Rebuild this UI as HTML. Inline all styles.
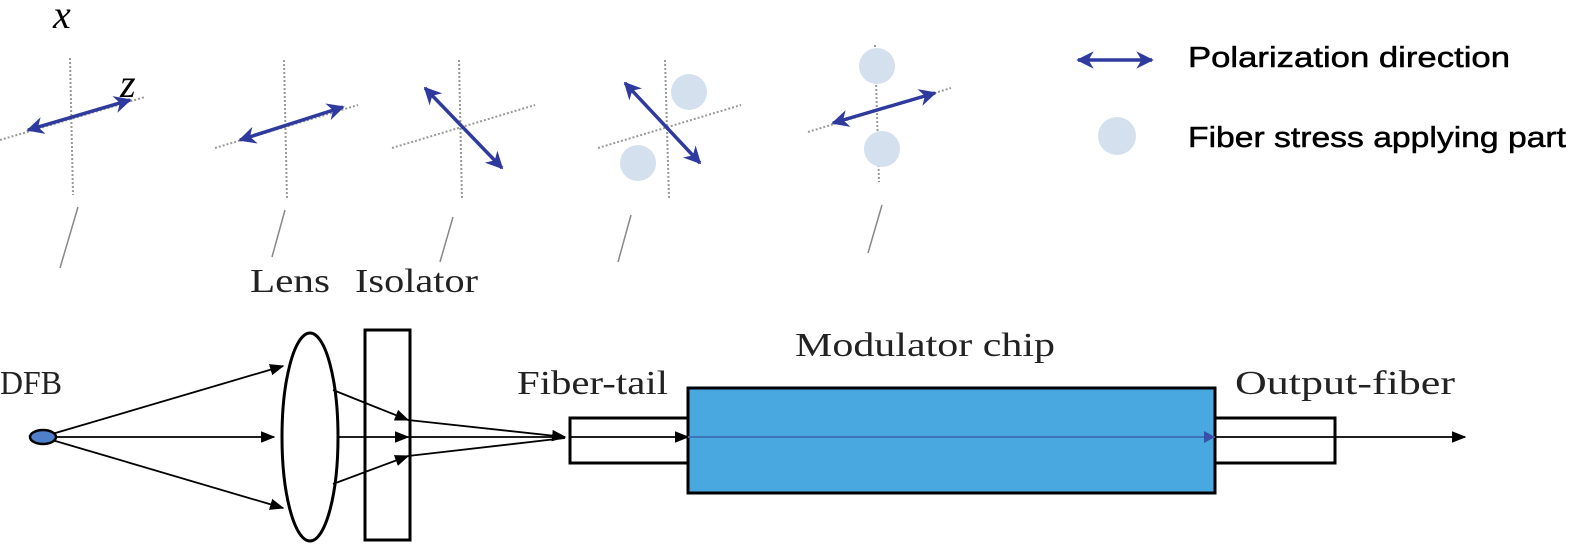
<!DOCTYPE html>
<html><head><meta charset="utf-8"><style>html,body{margin:0;padding:0;background:#fff}svg{display:block}</style></head>
<body>
<svg width="1575" height="552" viewBox="0 0 1575 552" xmlns="http://www.w3.org/2000/svg">
<defs>
<marker id="ba" viewBox="0 0 10 10" refX="9" refY="5" markerWidth="5" markerHeight="5" orient="auto-start-reverse"><path d="M0,0 L10,5 L0,10 L3,5 z" fill="#2e3a9e"/></marker>
<marker id="k" viewBox="0 0 10 10" refX="9" refY="5" markerWidth="8" markerHeight="8" orient="auto"><path d="M0,1 L10,5 L0,9 z" fill="#000"/></marker>
</defs>
<g stroke="#999" stroke-width="2" stroke-dasharray="2,2" fill="none">
<line x1="70" y1="58" x2="73" y2="195"/><line x1="0" y1="140" x2="145" y2="97"/>
<line x1="284" y1="60" x2="287" y2="200"/><line x1="215" y1="148" x2="358" y2="105"/>
<line x1="459" y1="60" x2="462" y2="200"/><line x1="392" y1="148" x2="535" y2="105"/>
<line x1="665" y1="60" x2="669" y2="198"/><line x1="598" y1="148" x2="741" y2="105"/>
<line x1="875" y1="45" x2="879" y2="182"/><line x1="808" y1="132" x2="951" y2="88"/>
</g>
<g stroke="#888" stroke-width="1.5">
<line x1="78" y1="207" x2="60" y2="268"/><line x1="285" y1="210" x2="272" y2="257"/>
<line x1="453" y1="217" x2="440" y2="262"/><line x1="631" y1="215" x2="618" y2="262"/>
<line x1="882" y1="205" x2="868" y2="253"/>
</g>
<g fill="#d4e0ee">
<circle cx="689" cy="92" r="18"/><circle cx="638" cy="163" r="18"/>
<circle cx="877" cy="66" r="18"/><circle cx="882" cy="149" r="18"/>
<circle cx="1117" cy="136" r="19"/>
</g>
<g stroke="#2e3a9e" stroke-width="3.5" marker-start="url(#ba)" marker-end="url(#ba)">
<line x1="28" y1="130" x2="130" y2="100"/>
<line x1="240" y1="140" x2="343" y2="107"/>
<line x1="425" y1="88" x2="502" y2="168"/>
<line x1="625" y1="83" x2="700" y2="163"/>
<line x1="833" y1="123" x2="935" y2="93"/>
<line x1="1078" y1="60" x2="1152" y2="60"/>
</g>
<g font-family="Liberation Serif, serif" font-style="italic" font-size="40"><text x="53" y="28">x</text><text x="120" y="97">z</text></g>
<g font-family="Liberation Sans, sans-serif" font-size="29" fill="#000" stroke="#000" stroke-width="0.5">
<text x="1188" y="67" textLength="322" lengthAdjust="spacingAndGlyphs">Polarization direction</text>
<text x="1188" y="147" textLength="378" lengthAdjust="spacingAndGlyphs">Fiber stress applying part</text>
</g>
<g font-family="Liberation Serif, serif" font-size="34" fill="#222">
<text x="250" y="292" textLength="80" lengthAdjust="spacingAndGlyphs">Lens</text>
<text x="355" y="292" textLength="123" lengthAdjust="spacingAndGlyphs">Isolator</text>
<text x="0" y="394" textLength="62" lengthAdjust="spacingAndGlyphs">DFB</text>
<text x="517" y="394" textLength="151" lengthAdjust="spacingAndGlyphs">Fiber-tail</text>
<text x="795" y="356" textLength="260" lengthAdjust="spacingAndGlyphs">Modulator chip</text>
<text x="1235" y="394" textLength="220" lengthAdjust="spacingAndGlyphs">Output-fiber</text>
</g>
<ellipse cx="310" cy="437" rx="28" ry="104" fill="none" stroke="#000" stroke-width="3"/>
<rect x="365" y="330" width="45" height="210" fill="none" stroke="#000" stroke-width="3"/>
<rect x="570" y="418" width="118" height="45" fill="none" stroke="#000" stroke-width="3"/>
<rect x="688" y="388" width="527" height="105" fill="#4aa8e0" stroke="#000" stroke-width="3"/>
<rect x="1215" y="418" width="120" height="45" fill="none" stroke="#000" stroke-width="3"/>
<g stroke="#000" stroke-width="1.8" fill="none">
<line x1="52" y1="434" x2="283" y2="366" marker-end="url(#k)"/>
<line x1="52" y1="437" x2="274" y2="437" marker-end="url(#k)"/>
<line x1="52" y1="440" x2="283" y2="508" marker-end="url(#k)"/>
<line x1="333" y1="390" x2="408" y2="420" marker-end="url(#k)"/>
<line x1="408" y1="420" x2="565" y2="437" marker-end="url(#k)"/>
<line x1="338" y1="437" x2="408" y2="437" marker-end="url(#k)"/>
<line x1="408" y1="437" x2="565" y2="437"/>
<line x1="333" y1="484" x2="408" y2="456" marker-end="url(#k)"/>
<line x1="408" y1="456" x2="565" y2="438"/>
<line x1="570" y1="437" x2="688" y2="437" marker-end="url(#k)"/>
<line x1="1335" y1="437" x2="1465" y2="437" marker-end="url(#k)"/>
</g>
<line x1="688" y1="437" x2="1215" y2="437" stroke="#3a6fb0" stroke-width="1.8"/>
<line x1="1215" y1="437" x2="1335" y2="437" stroke="#000" stroke-width="1.8"/>
<path d="M1204,431 L1215,437 L1204,443 z" fill="#3a4fa8"/>
<ellipse cx="43" cy="437" rx="13" ry="7" fill="#4f7fc8" stroke="#000" stroke-width="2.5"/>
</svg>
</body></html>
